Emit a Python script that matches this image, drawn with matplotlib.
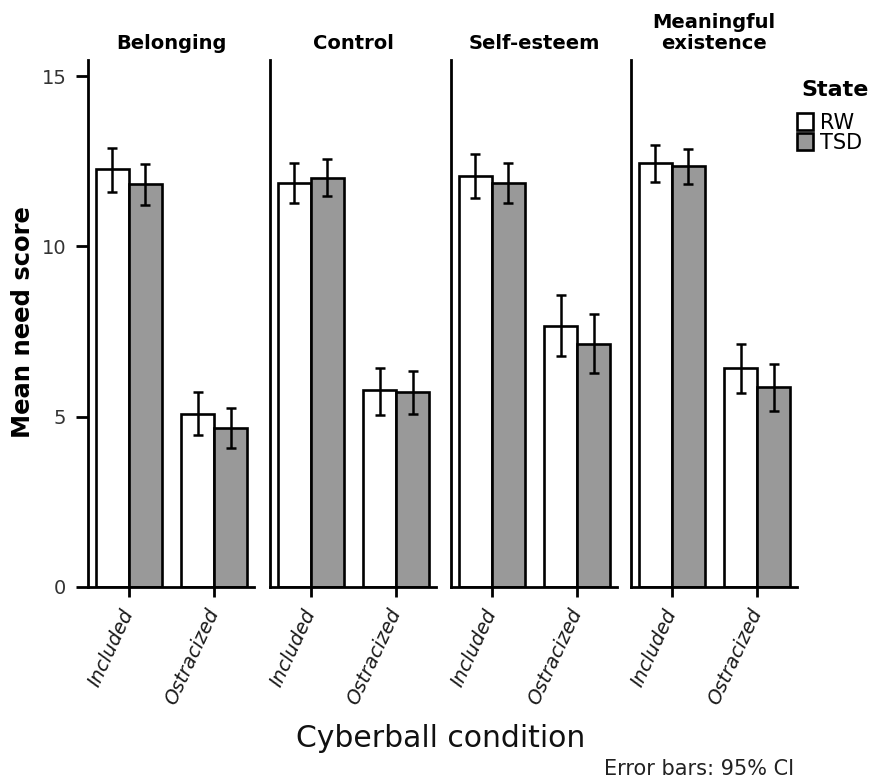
import matplotlib
matplotlib.use("Agg")
import matplotlib.pyplot as plt
from matplotlib.patches import Patch
import numpy as np

needs = ['Belonging', 'Control', 'Self-esteem', 'Meaningful\nexistence']
conditions = ['Included', 'Ostracized']
states = ['RW', 'TSD']

rw_mean = [[12.26, 5.09], [11.85, 5.77], [12.06, 7.66], [12.44, 6.44]]
rw_lo = [[11.60, 4.47], [11.26, 5.06], [11.41, 6.77], [11.88, 5.70]]
rw_hi = [[12.90, 5.73], [12.44, 6.44], [12.70, 8.57], [12.98, 7.14]]

tsd_mean = [[11.82, 4.67], [12.00, 5.72], [11.85, 7.12], [12.35, 5.86]]
tsd_lo = [[11.20, 4.09], [11.47, 5.09], [11.26, 6.29], [11.82, 5.18]]
tsd_hi = [[12.41, 5.24], [12.56, 6.35], [12.44, 8.00], [12.85, 6.55]]

yticks = [0, 5, 10, 15]

colors = {'RW': 'white', 'TSD': '#999999'}

W, H = 874, 780
fig = plt.figure(figsize=(W / 100, H / 100), dpi=100)

lefts = [88, 270, 451, 631]
ax_w = 166
ax_bottom = 587
ax_top = 60
bw = 0.384
x = np.arange(len(conditions))

for i, need in enumerate(needs):
    ax = fig.add_axes([lefts[i] / W, (H - ax_bottom) / H, ax_w / W, (ax_bottom - ax_top) / H])
    series = [(rw_mean[i], rw_lo[i], rw_hi[i], 'RW', -bw / 2),
              (tsd_mean[i], tsd_lo[i], tsd_hi[i], 'TSD', bw / 2)]
    for m, lo, hi, st, off in series:
        m = np.array(m); lo = np.array(lo); hi = np.array(hi)
        ax.bar(x + off, m, width=bw, color=colors[st], edgecolor='black',
               linewidth=1.9, zorder=2)
        ax.errorbar(x + off, m, yerr=[m - lo, hi - m], fmt='none',
                    ecolor='black', elinewidth=1.8, capsize=3.3, capthick=1.8,
                    zorder=3)
    ax.set_xlim(-0.477, 1.465)
    ax.set_ylim(0, 15.47)
    for s in ['top', 'right']:
        ax.spines[s].set_visible(False)
    for s in ['left', 'bottom']:
        ax.spines[s].set_linewidth(2.0)
    ax.set_xticks(x)
    ax.set_xticklabels(conditions, rotation=65, ha='right', va='center',
                       rotation_mode='anchor', fontsize=14, style='italic',
                       color='#1a1a1a')
    ax.tick_params(axis='x', length=7.5, width=2.0, pad=9)
    if i == 0:
        ax.set_yticks(yticks)
        ax.set_yticklabels([str(t) for t in yticks], fontsize=14, color='#333333')
        ax.tick_params(axis='y', length=8.6, width=2.0, pad=7)
    else:
        ax.set_yticks([])
    ax.set_title(need, fontsize=14, fontweight='bold', pad=8, linespacing=1.15)

fig.text(23 / W, 1 - 322.5 / H, 'Mean need score', rotation=90, ha='center',
         va='center', fontsize=17.5, fontweight='bold')
fig.text(441 / W, 1 - 747 / H, 'Cyberball condition', ha='center',
         va='baseline', fontsize=21.5, color='#111111')
fig.text(794 / W, 1 - 775 / H, 'Error bars: 95% CI', ha='right',
         va='baseline', fontsize=15, color='#222222')

fig.text(801 / W, 1 - 96 / H, 'State', ha='left', va='baseline',
         fontsize=16, fontweight='bold')
handles = [Patch(facecolor=colors[s], edgecolor='black', linewidth=1.9, label=s)
           for s in states]
leg = fig.legend(handles=handles, loc='upper left',
                 bbox_to_anchor=(797 / W, 1 - 113 / H), frameon=False,
                 fontsize=15, handlelength=0.78, handleheight=0.85,
                 handletextpad=0.3, labelspacing=0.0, borderpad=0,
                 borderaxespad=0)

fig.savefig('out.png', dpi=100)
